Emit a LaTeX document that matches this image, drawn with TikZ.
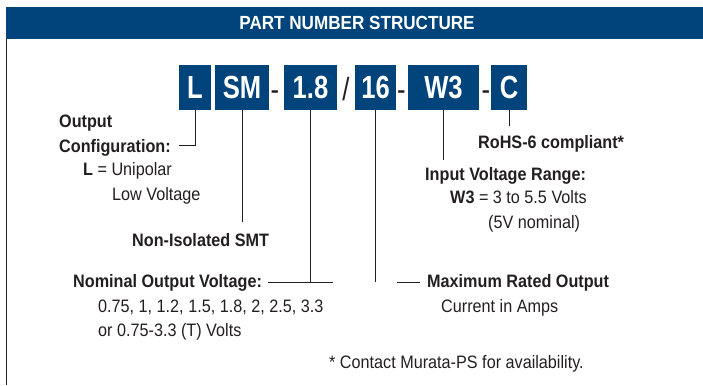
\documentclass[tikz,border=0pt]{standalone}
\usepackage{fontspec}
\setmainfont{Liberation Sans}[FakeStretch=0.9]
\newfontfamily\condfont{Liberation Sans}[FakeStretch=0.8]
\usetikzlibrary{positioning}
\definecolor{pnblue}{HTML}{00447B}
\definecolor{ink}{HTML}{231F20}

\begin{document}
\begin{tikzpicture}[x=1pt,y=-1pt,
  every node/.style={font=\fontsize{18}{22}\selectfont,text=ink,inner sep=0pt},
  lbl/.style={anchor=base west,text height=14pt,text depth=0pt},
  pbox/.style={fill=pnblue,text=white,minimum height=45pt,text height=23pt,text depth=0pt,
               font=\condfont\bfseries\fontsize{32}{36}\selectfont},
  sepch/.style={anchor=base,font=\condfont\fontsize{32}{36}\selectfont},
  conn/.style={draw=ink,line width=1pt}]
\useasboundingbox (0,0) rectangle (703,385);
% header band and frame
\fill[pnblue] (6,7) rectangle (703,39);
\node[text=white,font=\bfseries\fontsize{19}{22}\selectfont] (title) at (357,23) {PART NUMBER STRUCTURE};
\draw[ink,line width=1.3pt] (6.5,39) -- (6.5,385);
% part number boxes
\node[pbox,minimum width=32pt] (lbox) at (195,87.5) {L};
\node[pbox,minimum width=54pt] (smbox) at (242,87.5) {SM};
\node[pbox,minimum width=53pt] (vobox) at (310.5,87.5) {1.8};
\node[pbox,minimum width=41pt] (iobox) at (375.5,87.5) {16};
\node[pbox,minimum width=71pt] (w3box) at (443.5,87.5) {W3};
\node[pbox,minimum width=36pt] (cbox) at (509,87.5) {C};
\node[sepch] (sepa) at (275,100) {-};
\node[sepch] (sepb) at (346,100) {/};
\node[sepch] (sepc) at (401.5,100) {-};
\node[sepch] (sepd) at (486,100) {-};
% labels
\node[lbl] (outlbl) at (59,128) {\textbf{Output}};
\node[lbl] (cfglbl) at (59,152) {\textbf{Configuration:}};
\node[lbl] (cfgl) at (83,175) {\textbf{L} = Unipolar};
\node[lbl] (cfglow) at (112,200) {Low Voltage};
\node[lbl] (smlbl) at (132,246) {\textbf{Non-Isolated SMT}};
\node[lbl] (rohslbl) at (478,148) {\textbf{RoHS-6 compliant*}};
\node[lbl] (inlbl) at (425,180) {\textbf{Input Voltage Range:}};
\node[lbl] (inw3) at (450,203) {\textbf{W3} = 3 to 5.5 Volts};
\node[lbl] (innom) at (488,228) {(5V nominal)};
\node[lbl] (nomlbl) at (73,287) {\textbf{Nominal Output Voltage:}};
\node[lbl] (nomvals) at (98,312) {0.75, 1, 1.2, 1.5, 1.8, 2, 2.5, 3.3};
\node[lbl] (nomalt) at (98,336) {or 0.75-3.3 (T) Volts};
\node[lbl] (maxlbl) at (427,287) {\textbf{Maximum Rated Output}};
\node[lbl] (maxamp) at (441,312) {Current in Amps};
\node[lbl] (notelbl) at (329,368) {* Contact Murata-PS for availability.};
% connectors
\coordinate (nomend) at (333,282);
\coordinate (maxend) at (397,282);
\draw[conn] (lbox.south) |- ([xshift=8pt]cfglbl.east);
\draw[conn,shorten >=10pt] (smbox.south) -- (smbox.south |- smlbl.north);
\draw[conn] (vobox.south) -- (vobox.south |- nomend);
\draw[conn] ([xshift=6pt,yshift=-2pt]nomlbl.east) -- (nomend);
\draw[conn] (iobox.south) -- (iobox.south |- nomend);
\draw[conn] (maxend) -- ([xshift=-7pt,yshift=-2pt]maxlbl.west);
\draw[conn,shorten >=6pt] (w3box.south) -- (w3box.south |- inlbl.north);
\draw[conn,shorten >=8pt] (cbox.south) -- (cbox.south |- rohslbl.north);
\end{tikzpicture}
\end{document}
